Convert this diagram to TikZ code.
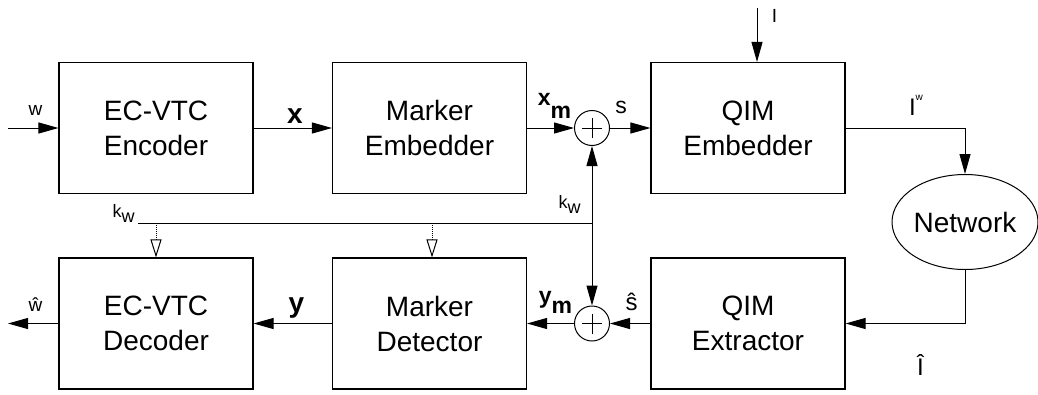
\documentclass[tikz,border=0pt]{standalone}
\usepackage{fontspec}
\setmainfont{Liberation Sans}
\usetikzlibrary{arrows.meta, shapes}

\tikzset{
  >={Triangle[length=20pt,width=11pt]},
  blk/.style={draw, line width=1.1pt, minimum width=194pt, minimum height=131pt, align=center, font=\fontsize{28}{35}\selectfont},
  adder/.style={draw, circle, line width=1pt, minimum size=35pt, inner sep=0pt,
    path picture={\draw[line width=0.8pt] ([xshift=-10pt]path picture bounding box.center) -- ([xshift=10pt]path picture bounding box.center);
                  \draw[line width=0.8pt] ([yshift=-10pt]path picture bounding box.center) -- ([yshift=10pt]path picture bounding box.center);}},
  lbl/.style={inner sep=0pt, anchor=base, font=\fontsize{19}{22}\selectfont},
  blbl/.style={inner sep=0pt, anchor=base, font=\fontsize{28}{30}\selectfont\bfseries},
  keyarrow/.style={densely dotted, -{Triangle[open,length=18pt,width=11pt]}}
}

\begin{document}
\begin{tikzpicture}[x=1pt, y=-1pt, line width=1pt]
\useasboundingbox (0,0) rectangle (1038,394);
\begin{scope}
    \node[blk] (enc) at (156,128) {EC-VTC\\Encoder};
    \node[blk] (memb) at (429.5,128) {Marker\\Embedder};
    \node[adder] (add1) at (592,128) {};
    \node[blk] (qemb) at (748,128) {QIM\\Embedder};
    \node[draw, ellipse, line width=1pt, minimum width=146pt, minimum height=95pt, inner sep=0pt,
          font=\fontsize{28}{35}\selectfont] (net) at (965,222) {Network};
    \node[blk] (dec) at (156,323.5) {EC-VTC\\Decoder};
    \node[blk] (mdet) at (429.5,323.5) {Marker\\Detector};
    \node[adder] (add2) at (592,323.5) {};
    \node[blk] (qext) at (748,323.5) {QIM\\Extractor};

    \coordinate (win) at (8,128);
    \coordinate (wout) at (8,323.5);
    \coordinate (iin) at (757,8);
    \coordinate (kwa) at (138,223);
    \coordinate (kwb) at (592,223);
    \coordinate (kd1) at (156,223);
    \coordinate (kd2) at (432,223);

    \draw[->] (win) -- (enc);
    \draw[->] (enc) -- (memb);
    \draw[->] (memb) -- (add1);
    \draw[->] (add1) -- (qemb);
    \draw[->] (iin) -- (iin |- qemb.north);
    \draw[->] (qemb.east) -| (net.north);
    \draw[->] (net.south) |- (qext.east);
    \draw[->] (qext) -- (add2);
    \draw[->] (add2) -- (mdet);
    \draw[->] (mdet) -- (dec);
    \draw[->] (dec) -- (wout);

    \draw (kwa) -- (kwb);
    \draw[->] (kwb) -- (add1);
    \draw[->] (kwb) -- (add2);
    \draw[keyarrow] (kd1) -- (kd1 |- dec.north);
    \draw[keyarrow] (kd2) -- (kd2 |- mdet.north);
\end{scope}
\begin{scope}
    \node[lbl] (lw) at (35.5,115) {w};
    \node[blbl] (lx) at (295,123) {x};
    \node[blbl, font=\fontsize{23}{26}\selectfont\bfseries] (lxm) at (554.5,105) {x\raisebox{-13pt}{m}};
    \node[lbl, font=\fontsize{23}{26}\selectfont] (ls) at (621,113) {s};
    \node[lbl] (li) at (774.5,22) {I};
    \node[lbl, font=\fontsize{24}{26}\selectfont] (liw) at (916,115) {I\raisebox{15pt}{\fontsize{10}{10}\selectfont w}};
    \node[lbl, font=\fontsize{18}{20}\selectfont] (lkw1) at (123.5,217) {k\raisebox{-5pt}{w}};
    \node[lbl, font=\fontsize{18}{20}\selectfont] (lkw2) at (569.5,208) {k\raisebox{-5pt}{w}};
    \node[lbl] (lwh) at (35.5,311) {\^{w}};
    \node[blbl] (ly) at (296.5,312) {y};
    \node[blbl, font=\fontsize{23}{26}\selectfont\bfseries] (lym) at (555.5,303) {y\raisebox{-10pt}{m}};
    \node[lbl, font=\fontsize{24}{26}\selectfont] (lsh) at (631.5,310) {\^{s}};
    \node[lbl, font=\fontsize{24}{26}\selectfont] (lih) at (920.5,375) {\^{I}};
\end{scope}
\end{tikzpicture}
\end{document}
